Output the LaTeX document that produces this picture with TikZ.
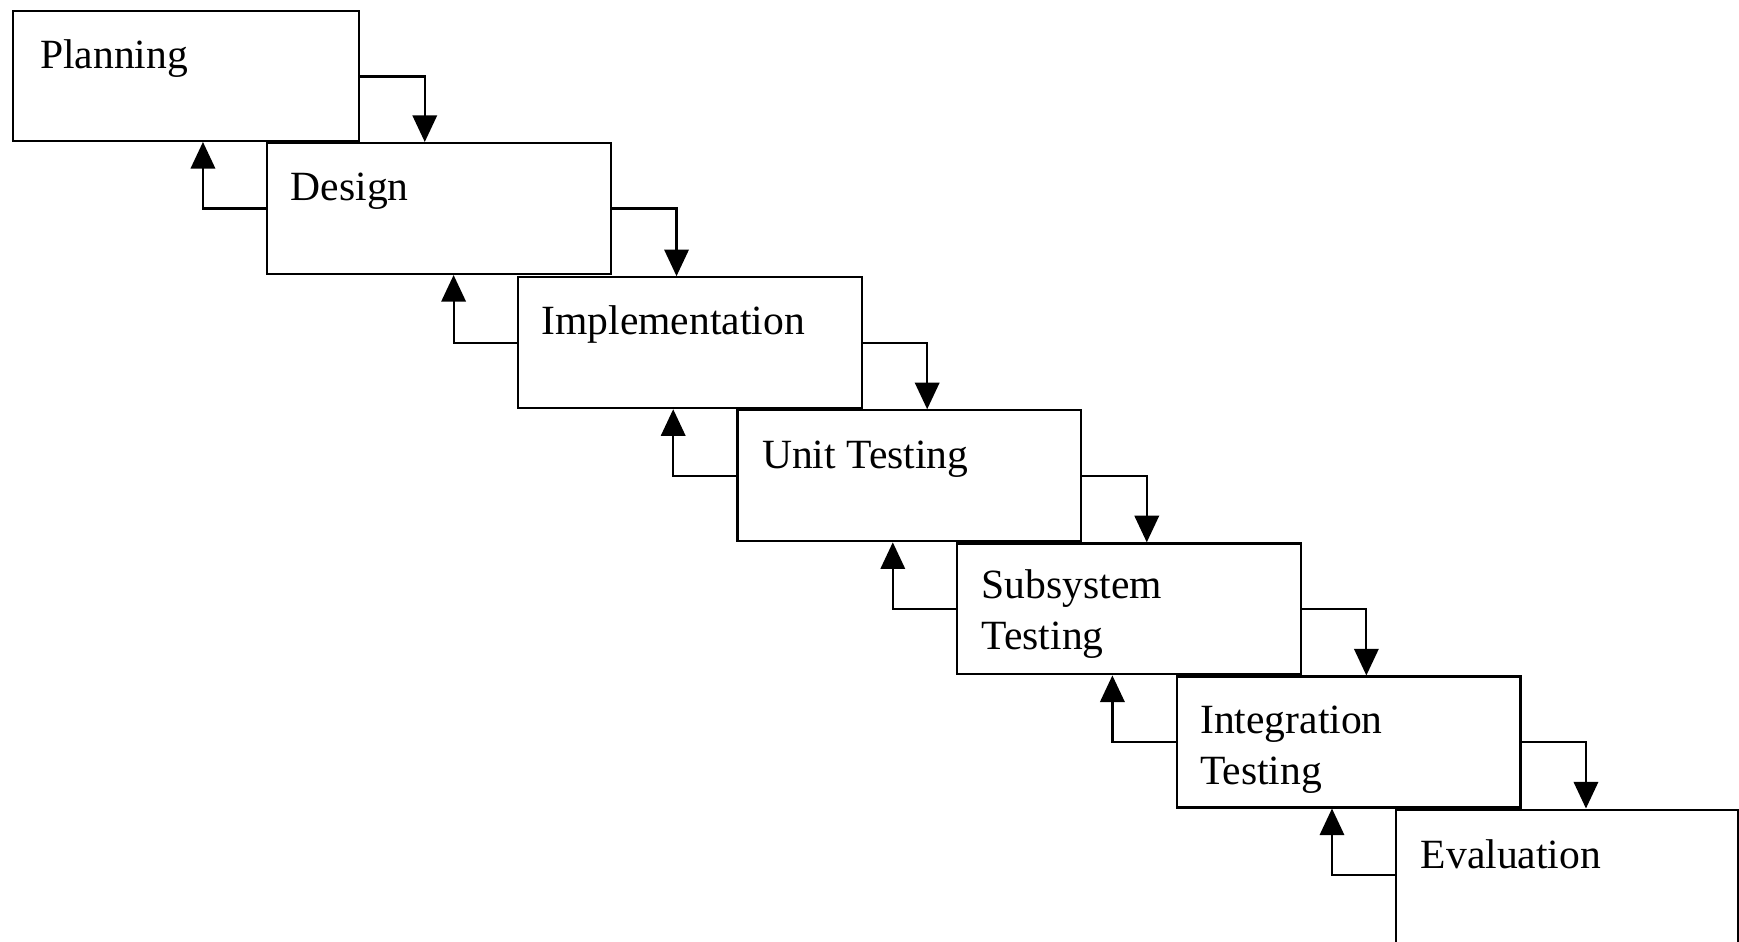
\documentclass[tikz,border=0pt]{standalone}
\usepackage{fontspec}
\setmainfont{Liberation Serif}
\usetikzlibrary{arrows.meta,calc}
\begin{document}
\begin{tikzpicture}[x=1pt,y=-1pt,
  stage/.style={draw, line width=2pt, rectangle, minimum width=310pt,
    minimum height=118pt, anchor=north west, inner sep=0pt},
  lbl/.style={anchor=base west, inner sep=0pt,
    font=\fontsize{37.5}{46}\selectfont, align=left},
  flow/.style={line width=2pt, -{Triangle[width=22pt,length=24pt]}}]
  \useasboundingbox (0,0) rectangle (1568,849);

  % process stages, top left corners
  \node[stage, minimum width=312pt, minimum height=117pt] (P) at (11,9) {};
  \node[stage] (D) at (240,128) {};
  \node[stage] (I) at (466,249) {};
  \node[stage] (U) at (664,369) {};
  \node[stage] (S) at (862,489) {};
  \node[stage] (G) at (1060,609) {};
  \node[stage, minimum width=308pt, minimum height=140pt] (E) at (1258,729) {};

  % stage names (base anchor of a two-line label is its last line)
  \node[lbl] (Pt) at ($(P.north west)+(25,53)$) {Planning};
  \node[lbl] (Dt) at ($(D.north west)+(22,53)$) {Design};
  \node[lbl] (It) at ($(I.north west)+(22,53)$) {Implementation};
  \node[lbl] (Ut) at ($(U.north west)+(23,53)$) {Unit Testing};
  \node[lbl] (St) at ($(S.north west)+(23,97)$) {Subsystem\\Testing};
  \node[lbl] (Gt) at ($(G.north west)+(22,98)$) {Integration\\Testing};
  \node[lbl] (Et) at ($(E.north west)+(23,54)$) {Evaluation};

  % forward flow and feedback between neighbouring stages
  \foreach \a/\b in {P/D, D/I, I/U, U/S, S/G, G/E} {
    \coordinate (\a-out) at ($(\a.north east)+(0,60)$);
    \coordinate (\a-turn) at ($(\a.north east)+(58,0)$);
    \draw[flow] (\a-out) -| (\a-turn |- \b.north);
    \coordinate (\b-back) at ($(\b.north west)+(0,60)$);
    \coordinate (\b-up) at ($(\b.north west)+(-57,0)$);
    \draw[flow] (\b-back) -| (\b-up |- \a.south);
  }
\end{tikzpicture}
\end{document}
